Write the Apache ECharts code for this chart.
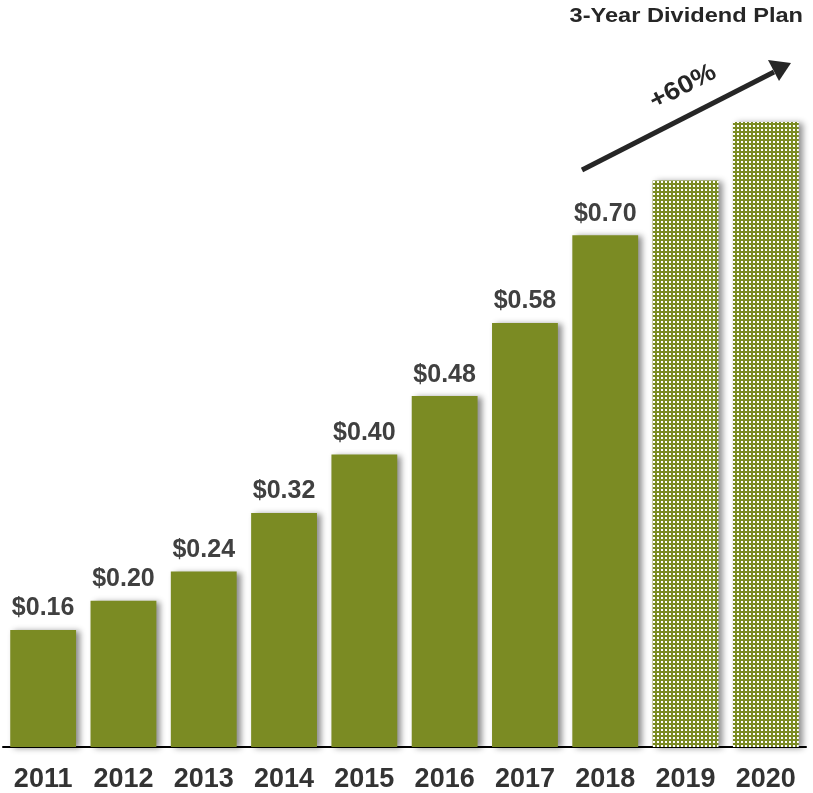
<!DOCTYPE html>
<html><head><meta charset="utf-8">
<script src="https://cdn.jsdelivr.net/npm/echarts@6/dist/echarts.min.js"></script>
<style>html,body{margin:0;padding:0;background:#fff}#c{width:813px;height:793px}</style>
</head><body><div id="c"></div>
<script>
const years = ['2011','2012','2013','2014','2015','2016','2017','2018','2019','2020'];
const dividends = [0.16,0.20,0.24,0.32,0.40,0.48,0.58,0.70,0.775,0.855];
const isPlan = [false,false,false,false,false,false,false,false,true,true];
const titleText = '3-Year Dividend Plan';
const growthText = '+60%';

const green = '#7b8b23';
const pc = document.createElement('canvas');
pc.width = 4; pc.height = 4;
const ctx = pc.getContext('2d');
ctx.fillStyle = green; ctx.fillRect(0,0,4,4);
ctx.fillStyle = '#ffffff'; ctx.fillRect(1,1,2,2);

const shadow = {shadowColor:'rgba(0,0,0,0.45)', shadowBlur:6, shadowOffsetX:4, shadowOffsetY:1};
const data = dividends.map((v,i)=>({
  value:v,
  itemStyle: Object.assign({color: isPlan[i] ? {image: pc, repeat:'repeat'} : green}, shadow),
  label: {show: !isPlan[i]}
}));

const chart = echarts.init(document.getElementById('c'));
chart.setOption({
  animation:false,
  grid:{left:3, right:7, top:16, bottom:45},
  xAxis:{type:'category', data:years,
    axisLine:{lineStyle:{color:'#000', width:2}}, axisTick:{show:false},
    axisLabel:{color:'#333', fontWeight:'bold', fontSize:27, fontFamily:'Liberation Sans, Arial', margin:19}},
  yAxis:{type:'value', min:0, max:1, show:false, splitLine:{show:false}},
  series:[{type:'bar', data:data, barCategoryGap:'18%',
    label:{position:'top', distance:9, color:'#404040', fontWeight:'bold', fontSize:25, fontFamily:'Liberation Sans, Arial',
      formatter:p=>'$'+p.value.toFixed(2)}}],
  graphic:[
    {type:'text', x:803, y:6, scaleX:1.18, style:{text:titleText, fill:'#262626', font:'bold 20px "Liberation Sans", Arial', align:'right', verticalAlign:'top'}},
    {type:'line', shape:{x1:582, y1:170, x2:774, y2:72}, style:{stroke:'#262626', lineWidth:5}},
    {type:'polygon', shape:{points:[[791,63],[768,60],[779,81]]}, style:{fill:'#262626'}},
    {type:'text', x:683, y:87, rotation:27*Math.PI/180, scaleX:1.1, style:{text:growthText, fill:'#262626', font:'bold 25px "Liberation Sans", Arial', align:'center', verticalAlign:'middle'}}
  ]
});
</script></body></html>
